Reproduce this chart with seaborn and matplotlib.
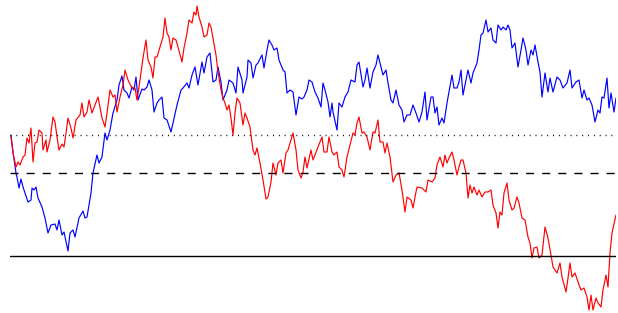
import matplotlib
matplotlib.use("Agg")
import matplotlib.pyplot as plt
import seaborn as sns
import pandas as pd

# Reference levels (value axis is drawn inverted)
level_solid = 256
level_dashed = 173
level_dotted = 135

# Blue series: (step, value)
blue_points = [
    (11, 135), (13, 152), (16, 173), (17, 177), (19, 188), (21, 179), (23, 187), (25, 193),
    (28, 202), (31, 200), (32, 188), (34, 190), (36, 187), (38, 198), (42, 207), (45, 218),
    (48, 233), (51, 225), (55, 224), (57, 230), (59, 220), (62, 235), (64, 232), (68, 251),
    (70, 233), (73, 230), (75, 237), (79, 218), (83, 211), (85, 218), (87, 217), (91, 193),
    (93, 173), (97, 155), (99, 163), (102, 157), (105, 133), (107, 140), (110, 130), (113, 113),
    (117, 100), (119, 85), (122, 76), (124, 90), (127, 93), (129, 98), (132, 87), (134, 90),
    (136, 77), (138, 100), (142, 89), (144, 90), (147, 87), (149, 80), (152, 90), (154, 112),
    (157, 103), (159, 100), (162, 97), (164, 118), (167, 120), (171, 132), (173, 123), (177, 105),
    (181, 90), (183, 88), (187, 83), (189, 88), (192, 75), (195, 67), (198, 85), (202, 62),
    (204, 73), (207, 57), (210, 53), (213, 82), (216, 80), (218, 67), (221, 82), (223, 100),
    (227, 90), (229, 80), (233, 83), (236, 93), (238, 67), (242, 80), (243, 93), (247, 77),
    (248, 60), (251, 63), (253, 78), (256, 65), (258, 63), (262, 55), (264, 68), (267, 50),
    (269, 40), (272, 45), (274, 50), (277, 48), (279, 60), (283, 70), (285, 72), (287, 93),
    (290, 90), (293, 92), (296, 115), (299, 97), (302, 99), (304, 97), (307, 90), (309, 80),
    (312, 82), (315, 92), (318, 98), (321, 107), (323, 83), (325, 90), (328, 102), (330, 117),
    (332, 103), (333, 112), (337, 130), (339, 103), (342, 107), (345, 97), (348, 92), (351, 80),
    (355, 82), (357, 65), (359, 62), (363, 87), (365, 80), (367, 68), (370, 88), (373, 72),
    (376, 65), (378, 55), (380, 63), (383, 75), (386, 70), (388, 83), (391, 100), (393, 103),
    (396, 90), (399, 105), (402, 110), (404, 122), (407, 115), (410, 115), (413, 105), (416, 113),
    (419, 122), (422, 112), (425, 92), (427, 120), (431, 97), (433, 97), (435, 113), (437, 107),
    (439, 125), (442, 118), (444, 123), (447, 103), (449, 92), (452, 75), (454, 88), (457, 88),
    (459, 82), (461, 70), (463, 95), (466, 80), (468, 70), (471, 83), (473, 73), (477, 63),
    (479, 50), (481, 35), (483, 33), (486, 20), (488, 32), (491, 28), (493, 40), (496, 43),
    (498, 25), (501, 30), (503, 27), (506, 30), (508, 25), (510, 30), (512, 48), (515, 43),
    (518, 67), (521, 50), (523, 38), (526, 50), (528, 65), (531, 50), (533, 55), (535, 45),
    (538, 62), (540, 72), (542, 97), (545, 73), (548, 92), (550, 78), (553, 92), (557, 77),
    (560, 80), (563, 88), (567, 83), (570, 70), (572, 88), (576, 82), (579, 80), (582, 98),
    (584, 90), (587, 100), (589, 98), (592, 105), (595, 122), (598, 110), (600, 113), (602, 97),
    (604, 98), (607, 78), (609, 108), (611, 93), (614, 112), (616, 98),
]

# Red series: (step, value)
red_points = [
    (11, 137), (13, 153), (16, 167), (18, 162), (20, 165), (23, 157), (25, 155), (27, 138),
    (29, 143), (31, 128), (33, 162), (35, 143), (37, 142), (39, 130), (42, 133), (43, 150),
    (46, 140), (47, 152), (50, 140), (53, 117), (55, 122), (57, 137), (59, 150), (62, 144),
    (64, 147), (66, 133), (68, 118), (71, 128), (73, 138), (76, 120), (80, 115), (82, 103),
    (84, 117), (87, 112), (89, 100), (92, 113), (95, 105), (98, 97), (102, 118), (105, 127),
    (107, 113), (110, 90), (113, 97), (115, 95), (117, 112), (120, 97), (123, 85), (125, 70),
    (128, 80), (132, 88), (135, 88), (137, 100), (140, 80), (143, 58), (146, 40), (148, 60),
    (151, 67), (153, 78), (155, 57), (157, 57), (160, 47), (163, 37), (165, 18), (167, 33),
    (169, 37), (171, 50), (173, 38), (176, 40), (178, 47), (182, 62), (184, 48), (187, 33),
    (189, 20), (192, 23), (194, 12), (196, 15), (197, 6), (199, 17), (202, 27), (204, 37),
    (207, 35), (209, 23), (211, 27), (213, 38), (216, 55), (218, 72), (221, 90), (223, 98),
    (225, 103), (227, 110), (229, 105), (231, 118), (233, 135), (235, 113), (237, 98), (240, 103),
    (243, 125), (245, 113), (247, 118), (250, 127), (253, 150), (255, 155), (257, 148), (260, 163),
    (263, 180), (266, 199), (268, 197), (271, 182), (273, 163), (276, 175), (278, 163), (281, 160),
    (283, 173), (286, 153), (288, 150), (291, 140), (293, 133), (296, 150), (298, 170), (301, 178),
    (303, 172), (305, 157), (307, 168), (311, 150), (313, 160), (315, 155), (318, 147), (322, 137),
    (324, 152), (327, 152), (329, 137), (332, 152), (334, 155), (337, 152), (339, 167), (342, 170),
    (344, 177), (347, 157), (350, 145), (353, 133), (355, 135), (357, 123), (359, 117), (362, 133),
    (364, 132), (367, 137), (370, 150), (373, 132), (375, 133), (378, 120), (380, 142), (383, 142),
    (385, 153), (387, 143), (390, 157), (393, 182), (396, 175), (399, 173), (402, 190), (405, 212),
    (407, 197), (411, 200), (413, 208), (415, 197), (417, 187), (422, 188), (426, 192), (428, 180),
    (432, 182), (435, 178), (437, 165), (440, 157), (443, 167), (445, 155), (447, 163), (449, 158),
    (452, 152), (454, 160), (457, 175), (459, 167), (461, 160), (463, 160), (466, 173), (468, 198),
    (470, 185), (472, 193), (474, 187), (477, 195), (479, 190), (482, 197), (485, 192), (488, 192),
    (491, 190), (493, 205), (496, 213), (498, 228), (500, 212), (502, 215), (504, 193), (507, 183),
    (509, 200), (512, 210), (514, 208), (517, 197), (519, 203), (522, 218), (525, 220), (528, 237),
    (530, 243), (532, 258), (534, 248), (537, 247), (539, 258), (542, 255), (545, 227), (548, 238),
    (551, 255), (553, 267), (557, 273), (560, 263), (562, 277), (566, 292), (568, 278), (570, 263),
    (572, 277), (575, 273), (578, 282), (581, 290), (584, 288), (587, 297), (589, 310), (591, 295),
    (593, 310), (596, 298), (598, 303), (601, 307), (603, 290), (606, 275), (608, 287), (610, 253),
    (612, 233), (616, 215),
]

blue_df = pd.DataFrame(blue_points, columns=["step", "value"])
red_df = pd.DataFrame(red_points, columns=["step", "value"])

sns.set_theme(style="white")
fig = plt.figure(figsize=(6.18, 3.13), dpi=100)
ax = fig.add_axes([10 / 618, 0, 606 / 618, 1])

sns.lineplot(data=blue_df, x="step", y="value", color="blue", linewidth=0.85,
             estimator=None, sort=False, ax=ax)
sns.lineplot(data=red_df, x="step", y="value", color="red", linewidth=0.85,
             estimator=None, sort=False, ax=ax)

ax.axhline(level_solid, color="black", linewidth=1.0)
ax.axhline(level_dashed, color="black", linewidth=1.0, linestyle=(0, (5.8, 5.8)))
ax.axhline(level_dotted, color="black", linewidth=1.0, linestyle=(0, (0.7, 3.5)))

ax.set_xlim(10, 616)
ax.set_ylim(313, 0)
ax.axis("off")

fig.savefig("out.png", dpi=100)
